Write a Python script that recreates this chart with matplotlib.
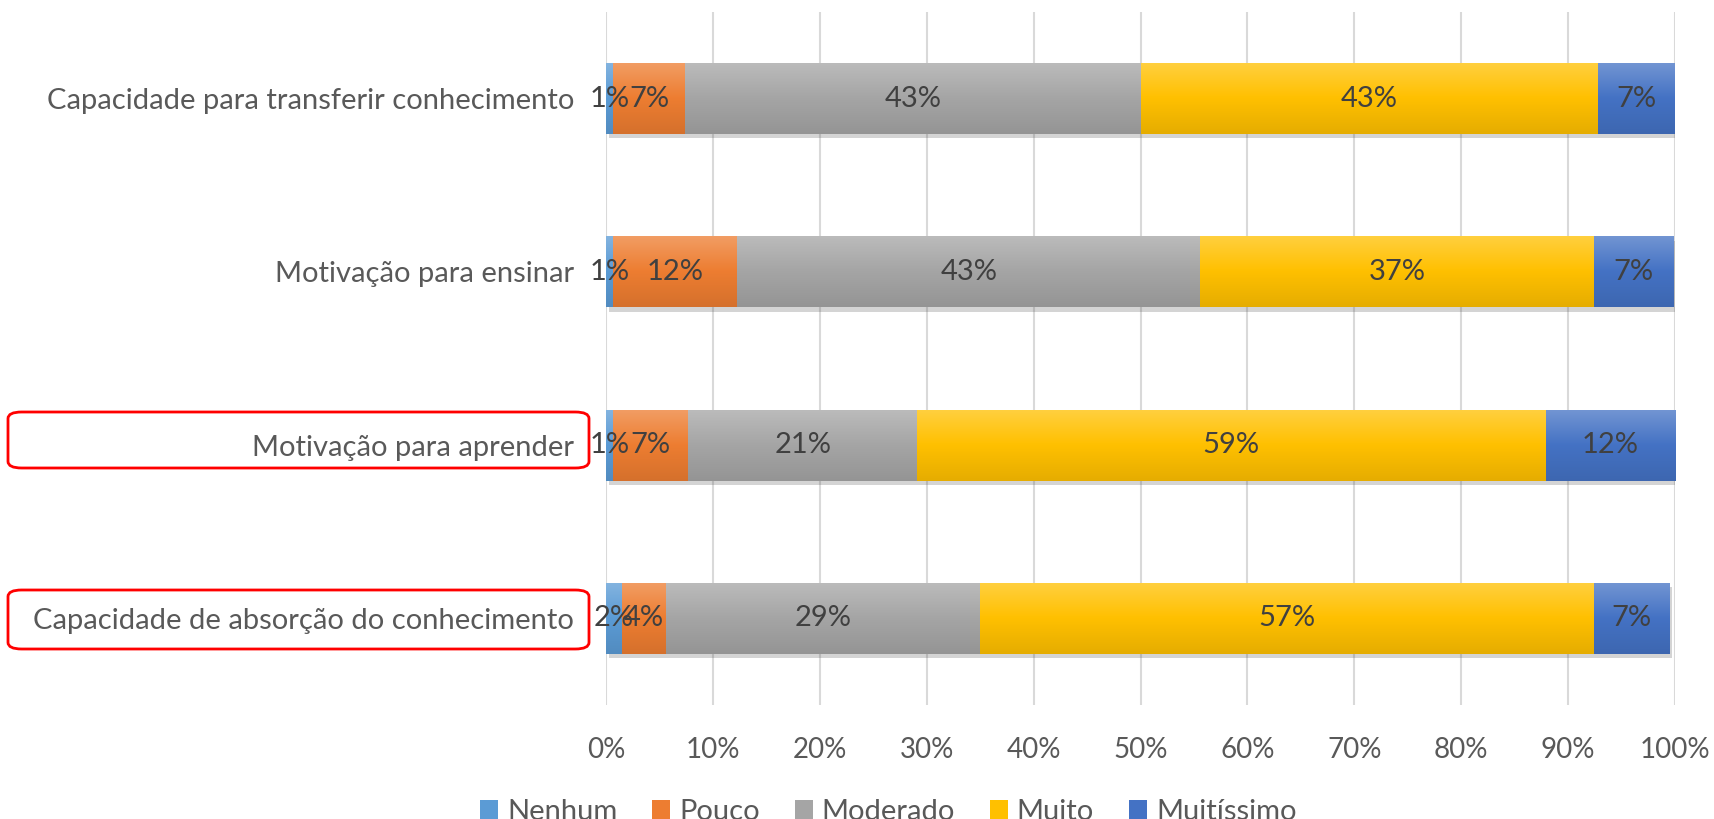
import matplotlib
matplotlib.use("Agg")
import matplotlib.pyplot as plt
import numpy as np
from matplotlib.colors import LinearSegmentedColormap, to_rgb
from matplotlib.patches import FancyBboxPatch, Patch
import matplotlib.patheffects as pe

plt.rcParams['font.family'] = ['Lato', 'DejaVu Sans']

categories = ["Capacidade de absorção do conhecimento",
              "Motivação para aprender",
              "Motivação para ensinar",
              "Capacidade para transferir conhecimento"]
series = ["Nenhum", "Pouco", "Moderado", "Muito", "Muitíssimo"]
nenhum = [1.5, 0.7, 0.7, 0.7]
pouco = [4.1, 7.0, 11.6, 6.7]
moderado = [29.4, 21.4, 43.3, 42.6]
muito = [57.4, 58.8, 36.8, 42.8]
muitissimo = [7.1, 12.1, 7.4, 7.2]
values = [nenhum, pouco, moderado, muito, muitissimo]
colors = ["#5B9BD5", "#ED7D31", "#A5A5A5", "#FFC000", "#4472C4"]
xticks = [0, 10, 20, 30, 40, 50, 60, 70, 80, 90, 100]
xticklabels = [f"{t}%" for t in xticks]
highlighted = ["Motivação para aprender", "Capacidade de absorção do conhecimento"]

FS = 21
W, H = 1714, 819

fig = plt.figure(figsize=(17.14, 8.19), dpi=100)
ax = fig.add_axes([606/W, 1-705/H, 1069/W, 693/H])

def grad_cmap(c):
    r = np.array(to_rgb(c))
    light = r + (1 - r) * 0.25
    dark = r * 0.9
    return LinearSegmentedColormap.from_list("g", [dark, r, light])

y = np.arange(len(categories))
left = np.zeros(len(categories))
grad = np.linspace(0, 1, 100).reshape(-1, 1)
for name, vals, col in zip(series, values, colors):
    bars = ax.barh(y, vals, left=left, height=0.41, color=col, zorder=2,
                   path_effects=[pe.SimplePatchShadow(offset=(2, -3), alpha=0.25, shadow_rgbFace="#555555"), pe.Normal()])
    cmap = grad_cmap(col)
    for b, v in zip(bars, vals):
        x0, y0 = b.get_x(), b.get_y()
        w, h = b.get_width(), b.get_height()
        im = ax.imshow(grad, extent=[x0, x0 + w, y0, y0 + h], aspect='auto',
                       cmap=cmap, origin='lower', zorder=3, interpolation='bicubic')
        im.set_clip_path(b)
        ax.text(x0 + w / 2, y0 + h / 2, f"{v:.0f}%", ha='center', va='center',
                fontsize=FS, color="#404040", zorder=5)
    left = left + np.array(vals)

ax.set_xlim(0, 100)
ax.set_ylim(-0.5, 3.5)
ax.set_xticks(xticks)
ax.set_xticklabels(xticklabels, fontsize=20, color="#595959")
ax.set_yticks(y)
ax.set_yticklabels(categories, fontsize=FS, color="#595959")
ax.tick_params(axis='both', length=0)
ax.tick_params(axis='x', pad=23)
ax.tick_params(axis='y', pad=23)
for s in ax.spines.values():
    s.set_visible(False)
ax.grid(axis='x', color="#D9D9D9", linewidth=1.5, zorder=0)
ax.set_axisbelow(True)

# red highlight boxes around labels
for lab, (yt, yb) in zip(highlighted, [(412, 468), (590, 649)]):
    box = FancyBboxPatch((8/W, 1-yb/H), (589-8)/W, (yb-yt)/H,
                         boxstyle="round,pad=0,rounding_size=0.008",
                         transform=fig.transFigure, fill=False,
                         edgecolor="#FF0000", linewidth=2, zorder=10)
    fig.patches.append(box)

handles = [Patch(facecolor=c, edgecolor='none') for c in colors]
fig.legend(handles, series, loc='center left', bbox_to_anchor=((466-12)/W, 1-812/H),
           ncol=5, frameon=False, fontsize=FS, labelcolor="#595959",
           handlelength=0.62, handleheight=0.62, handletextpad=0.3, columnspacing=1.2)

fig.savefig("out.png", dpi=100)
